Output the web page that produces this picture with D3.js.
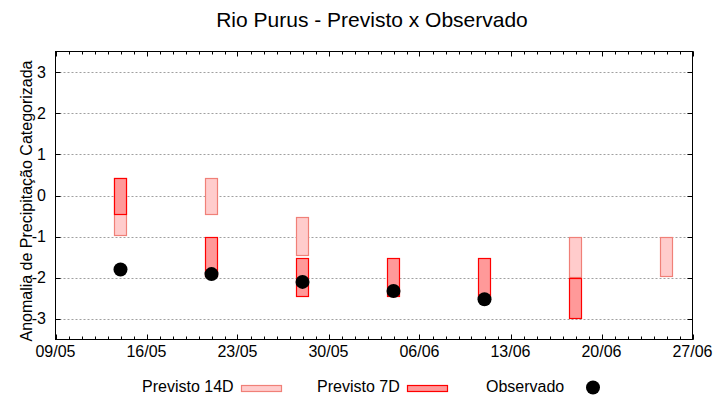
<!DOCTYPE html>
<html>
<head>
<meta charset="utf-8">
<script src="https://cdn.jsdelivr.net/npm/d3@7"></script>
<style>
  html, body { margin: 0; padding: 0; background: #fff; }
  svg { display: block; font-family: "Liberation Sans", Arial, sans-serif; }
</style>
</head>
<body>
<svg id="chart" width="720" height="400"></svg>
<script>
// ---- data ----
const dates      = ["14/05", "21/05", "28/05", "04/06", "11/06", "18/06", "25/06"];
const prev14Low  = [-0.96, -0.45, -1.45, null, null, -1.97, -1.96];
const prev14High = [ 0.43,  0.43, -0.52, null, null, -1.00, -1.00];
const prev7Low   = [-0.45, -1.95, -2.45, -2.45, -2.45, -2.97, null];
const prev7High  = [ 0.43, -1.00, -1.52, -1.52, -1.52, -2.00, null];
const observed   = [-1.80, -1.91, -2.10, -2.32, -2.52, null, null];
const xTickLabels = ["09/05", "16/05", "23/05", "30/05", "06/06", "13/06", "20/06", "27/06"];
const yTicks = [-3, -2, -1, 0, 1, 2, 3];
const title = "Rio Purus - Previsto x Observado";
const yLabel = "Anomalia de Precipitação Categorizada";
const legendLabels = ["Previsto 14D", "Previsto 7D", "Observado"];

// ---- helpers ----
const YEAR = 2023;
const parse = s => { const [d, m] = s.split("/").map(Number); return new Date(Date.UTC(YEAR, m - 1, d)); };
const DAY = 86400000;

const svg = d3.select("#chart");
const L = 55.5, R = 692.5, T = 51.5, B = 339.5;

const x = d3.scaleUtc()
  .domain([parse(xTickLabels[0]), parse(xTickLabels[xTickLabels.length - 1])])
  .range([L, R]);
const y = d3.scaleLinear().domain([-3.5, 3.5]).range([B, T]);

const c14Fill = "#ffcccc", c14Stroke = "#f08078";
const c7Fill = "#ff9999", c7Stroke = "#ff0000";

// grid
svg.append("g").selectAll("line").data(yTicks).join("line")
  .attr("x1", L).attr("x2", R)
  .attr("y1", d => Math.round(y(d)) + 0.5).attr("y2", d => Math.round(y(d)) + 0.5)
  .attr("stroke", "#a0a0a0").attr("stroke-width", 1).attr("stroke-dasharray", "2,2");

// bars
const half = 0.475 * DAY;
function bars(lo, hi, fill, stroke) {
  const data = dates.map((d, i) => ({ d: parse(d), lo: lo[i], hi: hi[i] })).filter(o => o.lo !== null);
  svg.append("g").selectAll("rect").data(data).join("rect")
    .attr("x", o => Math.round(x(new Date(+o.d - half))) + 0.5)
    .attr("width", o => Math.round(x(new Date(+o.d + half)) - x(new Date(+o.d - half))))
    .attr("y", o => Math.round(y(o.hi)) + 0.5)
    .attr("height", o => Math.round(y(o.lo) - y(o.hi)))
    .attr("fill", fill).attr("stroke", stroke).attr("stroke-width", 1.2);
}
bars(prev14Low, prev14High, c14Fill, c14Stroke);
bars(prev7Low, prev7High, c7Fill, c7Stroke);

// observed dots
svg.append("g").selectAll("circle")
  .data(dates.map((d, i) => ({ d: parse(d), v: observed[i] })).filter(o => o.v !== null))
  .join("circle")
  .attr("cx", o => x(o.d)).attr("cy", o => y(o.v)).attr("r", 7).attr("fill", "#000");

// axes (gnuplot-style inward ticks)
const allDays = d3.utcDay.range(x.domain()[0], new Date(+x.domain()[1] + 1));
const majorDays = xTickLabels.map(parse);
const axisG = svg.append("g").attr("stroke", "#000").attr("stroke-width", 1);
// x minor ticks bottom & top
axisG.selectAll(".mnb").data(allDays).join("line")
  .attr("x1", d => Math.round(x(d)) + 0.5).attr("x2", d => Math.round(x(d)) + 0.5)
  .attr("y1", B).attr("y2", B - 3);
axisG.selectAll(".mnt").data(allDays).join("line")
  .attr("x1", d => Math.round(x(d)) + 0.5).attr("x2", d => Math.round(x(d)) + 0.5)
  .attr("y1", T).attr("y2", T + 3);
axisG.selectAll(".mjb").data(majorDays).join("line")
  .attr("x1", d => Math.round(x(d)) + 0.5).attr("x2", d => Math.round(x(d)) + 0.5)
  .attr("y1", B).attr("y2", B - 5);
axisG.selectAll(".mjt").data(majorDays).join("line")
  .attr("x1", d => Math.round(x(d)) + 0.5).attr("x2", d => Math.round(x(d)) + 0.5)
  .attr("y1", T).attr("y2", T + 5);
// y ticks left & right
axisG.selectAll(".yl").data(yTicks).join("line")
  .attr("y1", d => Math.round(y(d)) + 0.5).attr("y2", d => Math.round(y(d)) + 0.5)
  .attr("x1", L).attr("x2", L + 5);
axisG.selectAll(".yr").data(yTicks).join("line")
  .attr("y1", d => Math.round(y(d)) + 0.5).attr("y2", d => Math.round(y(d)) + 0.5)
  .attr("x1", R).attr("x2", R - 5);
// frame
svg.append("rect").attr("x", L).attr("y", T).attr("width", R - L).attr("height", B - T)
  .attr("fill", "none").attr("stroke", "#000").attr("stroke-width", 1);

// tick labels
svg.append("g").selectAll("text").data(xTickLabels).join("text")
  .attr("x", d => x(parse(d))).attr("y", 357)
  .attr("text-anchor", "middle").attr("font-size", 16).attr("fill", "#000")
  .text(d => d);
svg.append("g").selectAll("text").data(yTicks).join("text")
  .attr("x", 46).attr("y", d => y(d) + 5.5)
  .attr("text-anchor", "end").attr("font-size", 16).attr("fill", "#000")
  .text(d => d);

// title
svg.append("text").attr("x", 372).attr("y", 27).attr("text-anchor", "middle")
  .attr("font-size", 21).attr("fill", "#000").text(title);

// y label
svg.append("text").attr("transform", "translate(32,201) rotate(-90)")
  .attr("text-anchor", "middle").attr("font-size", 16).attr("fill", "#000").text(yLabel);

// legend
const lg = svg.append("g");
lg.append("text").attr("x", 142).attr("y", 392).attr("font-size", 16).text(legendLabels[0]);
lg.append("rect").attr("x", 241.5).attr("y", 385.5).attr("width", 40).attr("height", 6)
  .attr("fill", c14Fill).attr("stroke", c14Stroke).attr("stroke-width", 1.2);
lg.append("text").attr("x", 317).attr("y", 392).attr("font-size", 16).text(legendLabels[1]);
lg.append("rect").attr("x", 407.5).attr("y", 385.5).attr("width", 40).attr("height", 6)
  .attr("fill", c7Fill).attr("stroke", c7Stroke).attr("stroke-width", 1.2);
lg.append("text").attr("x", 486).attr("y", 392).attr("font-size", 16).text(legendLabels[2]);
lg.append("circle").attr("cx", 593).attr("cy", 387.5).attr("r", 7).attr("fill", "#000");
</script>
</body>
</html>
